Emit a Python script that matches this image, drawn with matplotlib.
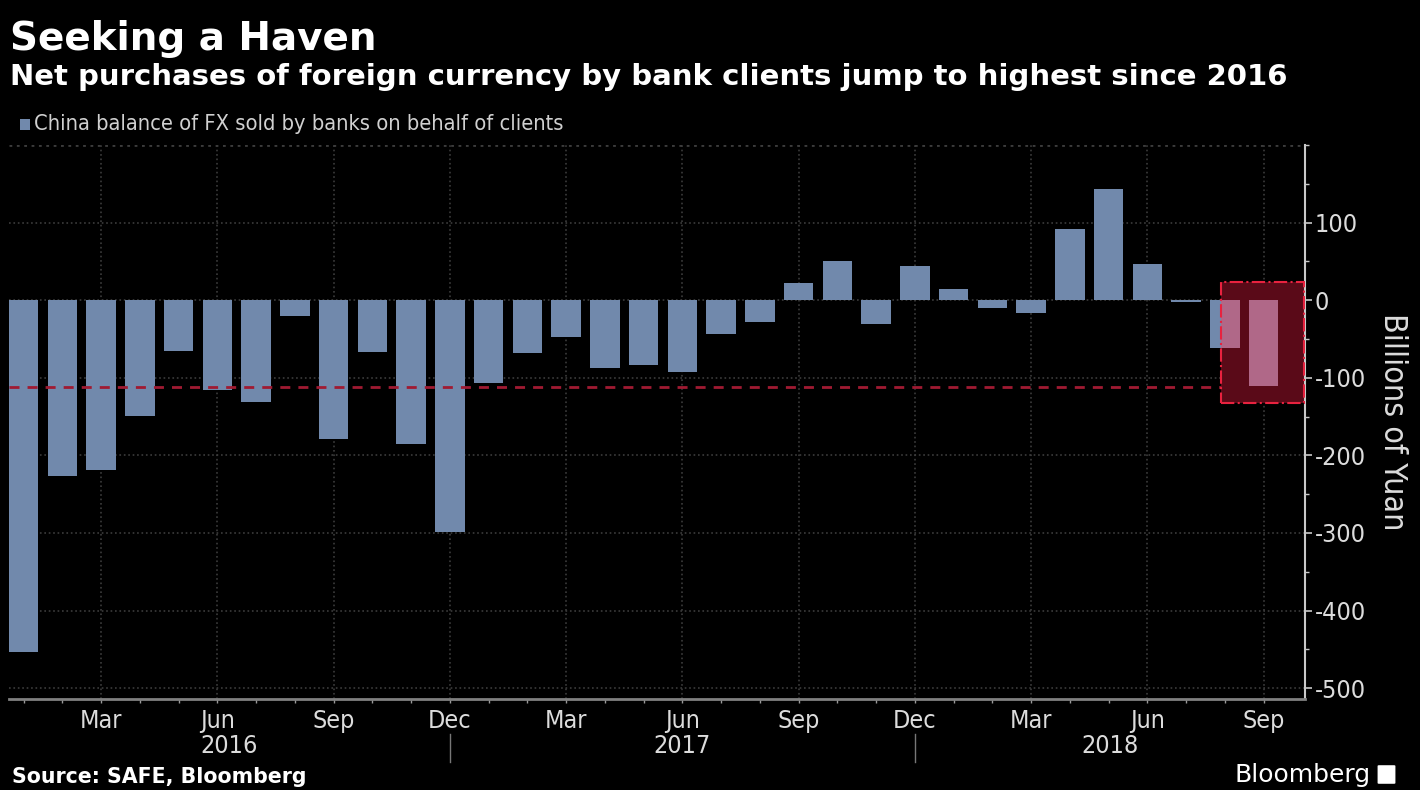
import numpy as np
import matplotlib
matplotlib.use("Agg")
import matplotlib.pyplot as plt
import matplotlib.transforms as mtransforms
from matplotlib import font_manager as fm
from matplotlib.patches import Rectangle, FancyBboxPatch

# datos: saldo mensual de divisas vendidas por bancos en nombre de clientes (mil millones de yuan)
months = ["Jan", "Feb", "Mar", "Apr", "May", "Jun",
          "Jul", "Aug", "Sep", "Oct", "Nov", "Dec"]
years = ["2016", "2017", "2018"]
values_2016 = [-454, -227, -219, -149, -66, -116, -131, -21, -179, -67, -185, -299]
values_2017 = [-107, -68, -47, -88, -84, -92, -43, -28, 22, 50, -31, 44]
values_2018 = [15, -10, -16, 92, 143, 47, -2, -62, -110]
values = values_2016 + values_2017 + values_2018
month_labels = (months * 3)[:len(values)]
y_ticks = [100, 0, -100, -200, -300, -400, -500]

# caja resaltada y linea de referencia
box_start, box_top, box_bottom = 30.9, 24, -132
ref_level = -112

BAR = "#7189ac"
PINK = "#b06888"

plt.rcParams["font.family"] = ["DejaVu Sans"]

# busca una fuente estrecha parecida a la de Bloomberg
ttf = fm.fontManager.ttflist
if any(f.name == "Liberation Sans Narrow" for f in ttf):
    narrow = dict(family="Liberation Sans Narrow")
elif any(f.name == "DejaVu Sans" and "condensed" in str(f.stretch) for f in ttf):
    narrow = dict(family="DejaVu Sans", stretch="condensed")
else:
    narrow = dict(family="Roboto")


def nfont(size):
    return fm.FontProperties(size=size, **narrow)


W, H = 1420, 790
fig = plt.figure(figsize=(W / 100, H / 100), dpi=100, facecolor="black")
ax = fig.add_axes([9 / W, 1 - 699 / H, 1296 / W, 554 / H])
ax.set_facecolor("black")

x = np.arange(len(values))
xlim = (-0.377, 33.07)
ylim = (-514, 200)
ax.set_xlim(*xlim)
ax.set_ylim(*ylim)

ax.bar(x, values, width=0.76, color=BAR, zorder=3)

# fondo de la caja
ax.add_patch(Rectangle((box_start, box_bottom), xlim[1] - box_start, box_top - box_bottom,
                       facecolor="#5a0a18", edgecolor="none", zorder=2))
# barras dentro de la caja en rosa
clip = Rectangle((box_start, box_bottom), xlim[1] - box_start, box_top - box_bottom,
                 transform=ax.transData)
pink = ax.bar(x, values, width=0.76, color=PINK, zorder=4)
for b in pink:
    b.set_clip_path(clip)
ax.add_patch(Rectangle((box_start, box_bottom), xlim[1] - box_start - 0.03, box_top - box_bottom,
                       fill=False, edgecolor="#e8223f", linestyle="-.", lw=1.5, zorder=6))
ax.plot([xlim[0], box_start], [ref_level, ref_level], color="#a01a32", lw=2,
        dashes=(3.6, 2.9), zorder=5)

# ejes
quarters = [i for i, m in enumerate(month_labels) if m in ("Mar", "Jun", "Sep", "Dec")]
ax.set_xticks(quarters)
ax.set_xticklabels([month_labels[i] for i in quarters], fontproperties=nfont(18),
                   color="#dcdcdc")
ax.set_xticks(x, minor=True)
ax.set_yticks(y_ticks)
ax.set_yticklabels([str(v) for v in y_ticks], fontproperties=nfont(18), color="#dcdcdc")
ax.set_yticks(np.arange(-500, 201, 50), minor=True)
ax.yaxis.tick_right()

for s in ("top", "left"):
    ax.spines[s].set_visible(False)
ax.spines["right"].set_color("#c8c8c8")
ax.spines["right"].set_linewidth(1.5)
ax.spines["bottom"].set_color("#808080")
ax.spines["bottom"].set_linewidth(2)

ax.tick_params(axis="y", which="major", length=5, width=1.2, color="#c8c8c8", pad=2)
ax.tick_params(axis="y", which="minor", length=3, width=1, color="#c8c8c8")
ax.tick_params(axis="x", which="both", length=3, width=1, color="#999999", pad=4)

ax.grid(True, which="major", linestyle=":", color="#3c3c3c", lw=1.2, zorder=0)
ax.axhline(ylim[1], linestyle=":", color="#3c3c3c", lw=2, zorder=0)
ax.set_axisbelow(True)

# etiquetas de anio y separadores
trans = mtransforms.blended_transform_factory(ax.transData, ax.transAxes)
seps = [11, 23]
edges = [xlim[0]] + seps + [xlim[1]]
for i, yr in enumerate(years):
    ax.text((edges[i] + edges[i + 1]) / 2, -0.084, yr, transform=trans, ha="center",
            va="center", color="#dcdcdc", fontproperties=nfont(18))
for s in seps:
    ax.plot([s, s], [-0.064, -0.113], transform=trans, clip_on=False, color="#777777", lw=1)

fig.text(1393 / W, 1 - 422 / H, "Billions of Yuan", rotation=270, ha="center", va="center",
         color="#dcdcdc", fontproperties=nfont(23))

# titulos
fig.text(10 / W, 1 - 50 / H, "Seeking a Haven", color="white", fontsize=28,
         fontweight="bold", va="baseline")
fig.text(10 / W, 1 - 85 / H,
         "Net purchases of foreign currency by bank clients jump to highest since 2016",
         color="white", fontsize=21, fontweight="bold", va="baseline")
fig.patches.append(Rectangle((20 / W, 1 - 130 / H), 10 / W, 11 / H, facecolor=BAR,
                             transform=fig.transFigure, figure=fig))
fig.text(34 / W, 1 - 124 / H, "China balance of FX sold by banks on behalf of clients",
         color="#d0d0d0", fontproperties=nfont(15.7), va="center")

fig.text(12 / W, 1 - 777 / H, "Source: SAFE, Bloomberg", color="white", fontsize=14.8,
         fontweight="bold", va="center")
fig.text(1371 / W, 1 - 775 / H, "Bloomberg", color="white", fontsize=18, ha="right",
         va="center")
fig.patches.append(FancyBboxPatch((1379 / W, 1 - 783 / H), 15 / W, 17 / H,
                                  boxstyle="round,pad=0.001", facecolor="white",
                                  edgecolor="none", transform=fig.transFigure, figure=fig))

fig.savefig("out.png", dpi=100, facecolor="black")
